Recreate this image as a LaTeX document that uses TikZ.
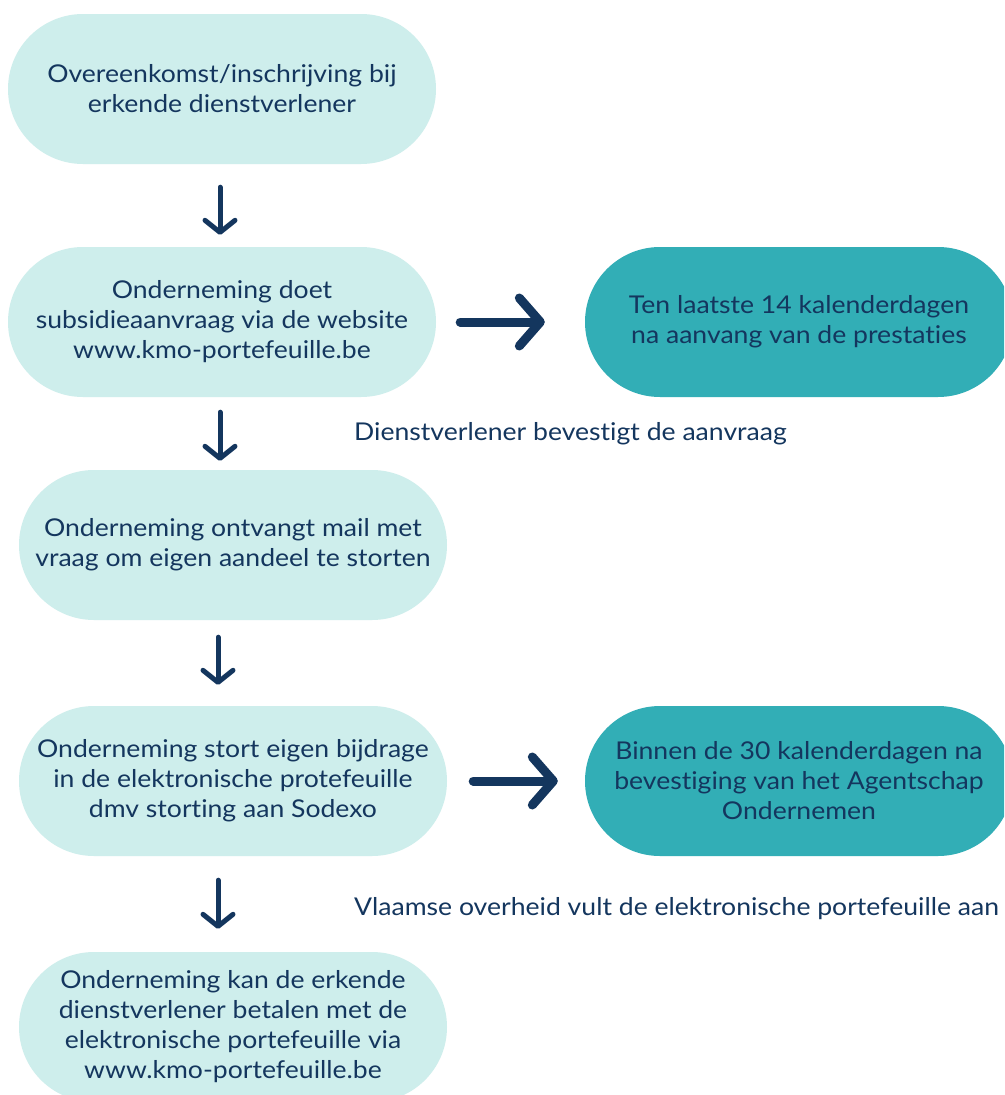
\documentclass[tikz,border=0pt]{standalone}
\usepackage{fontspec}
\setmainfont[FakeStretch=1.085, Ligatures=NoCommon]{Lato}
\usetikzlibrary{arrows.meta}
\definecolor{lightbox}{HTML}{CEEEEC}
\definecolor{tealbox}{HTML}{32AEB6}
\definecolor{navy}{HTML}{14365E}
\begin{document}
\begin{tikzpicture}[x=1pt,y=-1pt,
  every node/.style={text=navy, font=\fontsize{24.5}{30}\selectfont},
  pill/.style={rectangle, rounded corners=75pt, minimum width=428pt, minimum height=150pt, align=center, inner sep=0pt},
  lightpill/.style={pill, fill=lightbox},
  tealpill/.style={pill, fill=tealbox},
  downarrow/.style={draw=navy, line width=5pt, line cap=round, -{Straight Barb[length=12pt, width=30pt, round]}},
  rightarrow/.style={draw=navy, line width=9pt, line cap=round, -{Straight Barb[length=21pt, width=48pt, round]}},
  note/.style={anchor=west, inner sep=0pt}
]
\clip (0,0) rectangle (1004,1095);
\fill[white] (0,0) rectangle (1004,1095);

\node[lightpill] (b1) at (222,89) {Overeenkomst/inschrijving bij\\erkende dienstverlener};
\node[lightpill] (b2) at (222,322) {Onderneming doet\\subsidieaanvraag via de website\\www.kmo-portefeuille.be};
\node[tealpill] (ra) at (799,322) {Ten laatste 14 kalenderdagen\\na aanvang van de prestaties};
\node[lightpill] (b3) at (233,545) {Onderneming ontvangt mail met\\vraag om eigen aandeel te storten};
\node[lightpill] (b4) at (233,781) {Onderneming stort eigen bijdrage\\in de elektronische protefeuille\\dmv storting aan Sodexo};
\node[tealpill] (rb) at (799,781) {Binnen de 30 kalenderdagen na\\bevestiging van het Agentschap\\Ondernemen};
\node[lightpill] (b5) at (233,1027) {Onderneming kan de erkende\\dienstverlener betalen met de\\elektronische portefeuille via\\www.kmo-portefeuille.be};

\node[note] (l1) at (354,434) {Dienstverlener bevestigt de aanvraag};
\node[note] (l2) at (354,909) {Vlaamse overheid vult de elektronische portefeuille aan};

\draw[downarrow, shorten <=23pt, shorten >=12pt] ([xshift=-2pt]b1.south) -- ([xshift=-2pt]b2.north);
\draw[downarrow, shorten <=15pt, shorten >=9pt] ([xshift=-2pt]b2.south) -- ([xshift=-13pt]b3.north);
\draw[downarrow, shorten <=17pt, shorten >=21pt] ([xshift=-15pt]b3.south) -- ([xshift=-15pt]b4.north);
\draw[downarrow, shorten <=24pt, shorten >=23pt] ([xshift=-15pt]b4.south) -- ([xshift=-15pt]b5.north);
\draw[rightarrow, shorten <=24pt, shorten >=40pt] (b2.east) -- (ra.west);
\draw[rightarrow, shorten <=26pt, shorten >=27pt] (b4.east) -- (rb.west);
\end{tikzpicture}
\end{document}
